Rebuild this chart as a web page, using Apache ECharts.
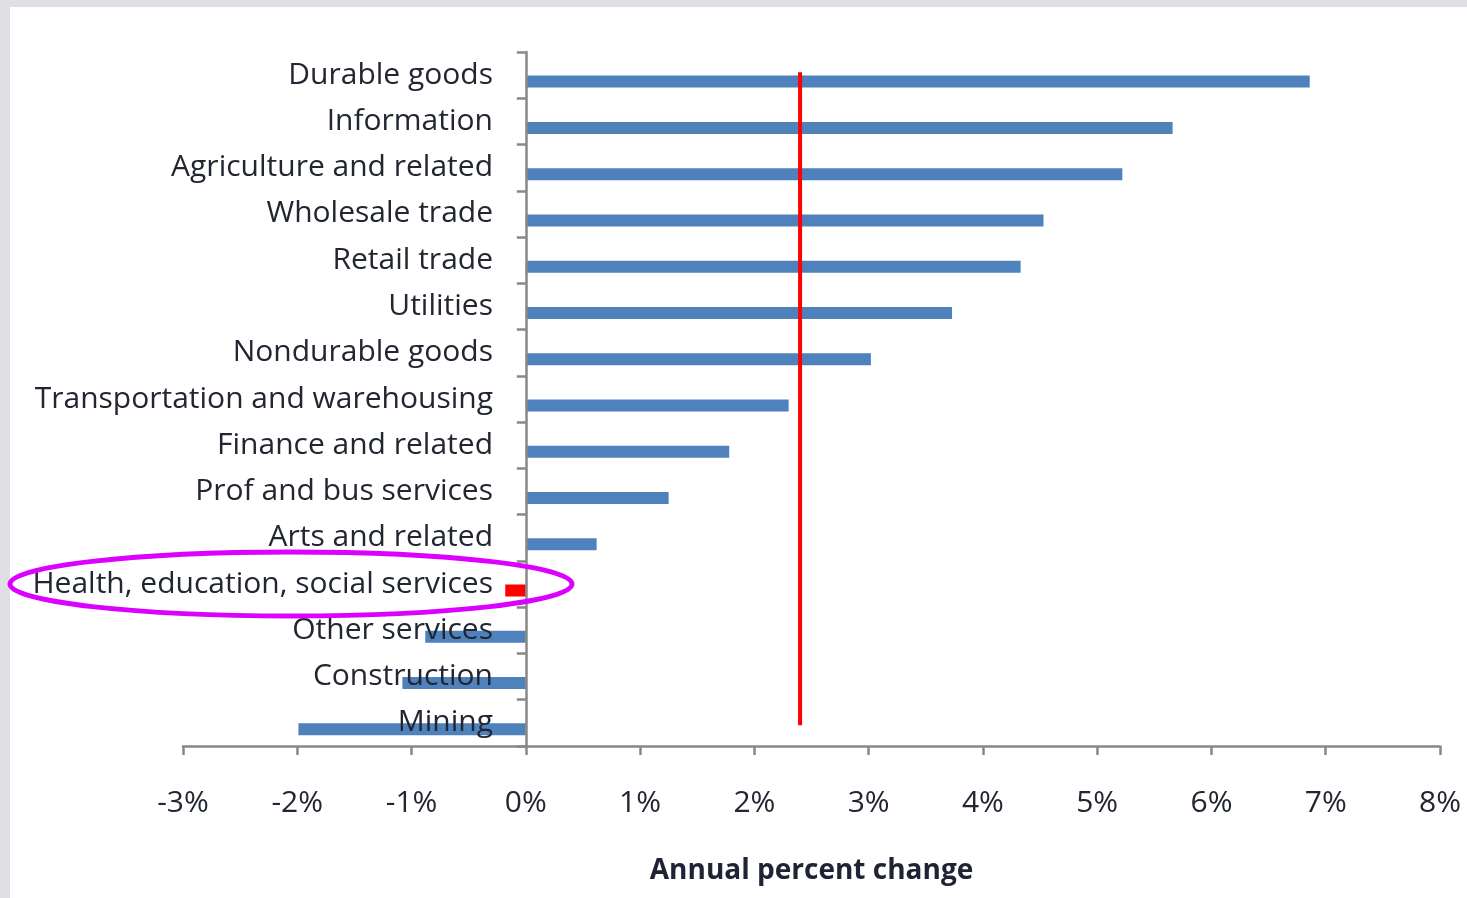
<!DOCTYPE html>
<html>
<head>
<meta charset="utf-8">
<script src="https://cdn.jsdelivr.net/npm/echarts@6/dist/echarts.min.js"></script>
<style>
  html, body { margin: 0; padding: 0; width: 1467px; height: 898px; overflow: hidden; background: #dfdfe4; }
  #panel { position: absolute; left: 10px; top: 7px; right: 0; bottom: 0; background: #ffffff; }
  #chart { position: absolute; left: 0; top: 0; width: 1467px; height: 898px; }
</style>
</head>
<body>
<div id="panel"></div>
<div id="chart"></div>
<script>
// Categories, top to bottom
const categories = [
  'Durable goods', 'Information', 'Agriculture and related', 'Wholesale trade',
  'Retail trade', 'Utilities', 'Nondurable goods', 'Transportation and warehousing',
  'Finance and related', 'Prof and bus services', 'Arts and related',
  'Health, education, social services', 'Other services', 'Construction', 'Mining'
];
// Annual percent change (%)
const values = [6.86, 5.66, 5.22, 4.53, 4.33, 3.73, 3.02, 2.30, 1.78, 1.25, 0.62, -0.18, -0.88, -1.08, -1.99];
const highlighted = 'Health, education, social services';
// Reference line (average) in %
const averageChange = 2.4;
const averageLineSpan = [0.03, 0.971]; // fraction of plot height
const xTicks = { min: -3, max: 8, interval: 1 };
const xAxisName = 'Annual percent change';

const FONT = 'Open Sans';
const chart = echarts.init(document.getElementById('chart'), null, { renderer: 'canvas' });

const barData = values.map((v, i) => categories[i] === highlighted
  ? { value: v, itemStyle: { color: '#ff0000', borderColor: '#ff0000', borderWidth: 4 } }
  : v);

chart.setOption({
  backgroundColor: 'transparent',
  animation: false,
  grid: { left: 183, right: 27, top: 52, bottom: 152, containLabel: false, outerBoundsMode: 'none' },
  xAxis: {
    type: 'value', min: xTicks.min, max: xTicks.max, interval: xTicks.interval,
    name: xAxisName, nameLocation: 'middle', nameGap: 111,
    nameTextStyle: { fontFamily: FONT, fontWeight: 'bold', fontSize: 28, color: '#1f2333' },
    axisLine: { show: true, lineStyle: { color: '#888888', width: 2.5 } },
    axisTick: { show: true, length: 9, lineStyle: { color: '#888888', width: 2.5 } },
    axisLabel: { formatter: '{value}%', margin: 42, fontFamily: FONT, fontSize: 30, color: '#222630' },
    splitLine: { show: false }
  },
  yAxis: [{
    type: 'category', data: categories, inverse: true, z: 3,
    axisLine: { show: true, onZero: true, lineStyle: { color: '#888888', width: 2.5 } },
    axisTick: { show: true, length: 9, lineStyle: { color: '#888888', width: 2.5 } },
    axisLabel: { margin: -310, fontFamily: FONT, fontSize: 30, color: '#222630', padding: [2, 0, 0, 0] },
    splitLine: { show: false }
  }, {
    type: 'value', min: 0, max: 1, show: false
  }],
  series: [
    { type: 'bar', name: 'spacer', data: [], barWidth: 12, barGap: '8%', silent: true },
    { type: 'bar', name: 'Annual percent change', data: barData, barWidth: 12,
      itemStyle: { color: '#4f81bd' } },
    { type: 'line', name: 'Average', xAxisIndex: 0, yAxisIndex: 1, symbol: 'none',
      data: [[averageChange, averageLineSpan[0]], [averageChange, averageLineSpan[1]]],
      lineStyle: { color: '#ff0000', width: 4 }, z: 4 }
  ],
  graphic: [{
    type: 'ellipse', z: 10,
    shape: { cx: 291, cy: 584, rx: 281, ry: 32 },
    style: { fill: 'none', stroke: '#dc00ff', lineWidth: 5 }
  }]
});
</script>
</body>
</html>
